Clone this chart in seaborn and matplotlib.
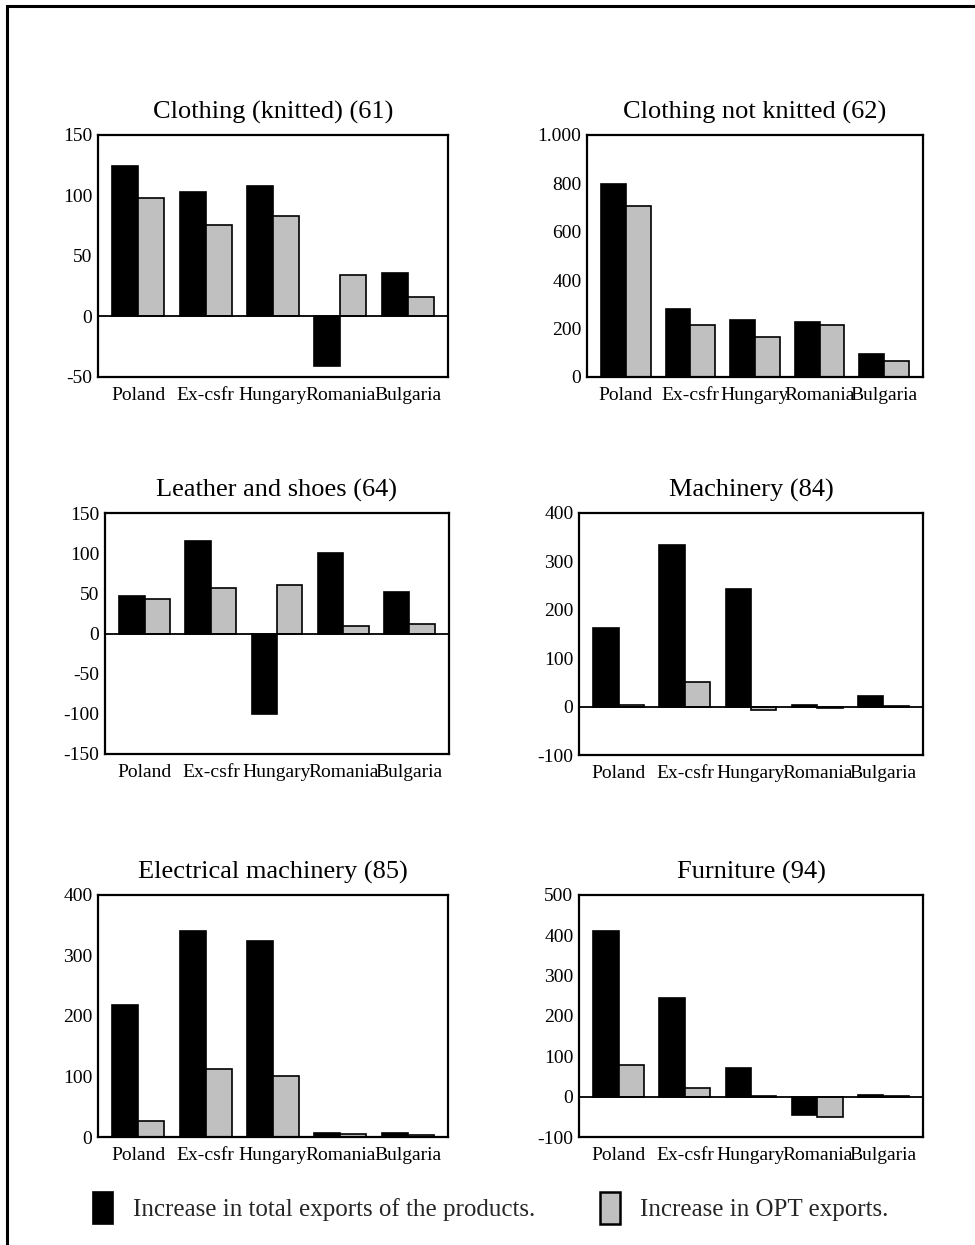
import numpy as np
import pandas as pd
import matplotlib
matplotlib.use("Agg")
import matplotlib.pyplot as plt
from matplotlib.patches import Patch, Rectangle
from matplotlib.ticker import FuncFormatter
import seaborn as sns

# Countries on the x axis
countries = ["Poland", "Ex-csfr", "Hungary", "Romania", "Bulgaria"]

# Series names
series = ["Increase in total exports of the products.", "Increase in OPT exports."]

# Panel titles
titles = [
    "Clothing (knitted) (61)",
    "Clothing not knitted (62)",
    "Leather and shoes (64)",
    "Machinery (84)",
    "Electrical machinery (85)",
    "Furniture (94)",
]

# Increase in total exports, per product group
total_61 = [124, 103, 108, -41, 36]
total_62 = [798, 281, 237, 228, 96]
total_64 = [47, 115, -100, 100, 52]
total_84 = [162, 333, 242, 4, 21]
total_85 = [219, 341, 324, 6, 7]
total_94 = [411, 244, 70, -46, 5]

# Increase in OPT exports, per product group
opt_61 = [98, 76, 83, 34, 16]
opt_62 = [706, 215, 165, 215, 67]
opt_64 = [43, 57, 60, 9, 12]
opt_84 = [4, 50, -8, -3, 2]
opt_85 = [27, 113, 101, 5, 4]
opt_94 = [78, 21, 2, -50, 2]

# Y tick values for each panel
yticks_61 = [-50, 0, 50, 100, 150]
yticks_62 = [0, 200, 400, 600, 800, 1000]
yticks_64 = [-150, -100, -50, 0, 50, 100, 150]
yticks_84 = [-100, 0, 100, 200, 300, 400]
yticks_85 = [0, 100, 200, 300, 400]
yticks_94 = [-100, 0, 100, 200, 300, 400, 500]

panels = [
    (total_61, opt_61, yticks_61),
    (total_62, opt_62, yticks_62),
    (total_64, opt_64, yticks_64),
    (total_84, opt_84, yticks_84),
    (total_85, opt_85, yticks_85),
    (total_94, opt_94, yticks_94),
]

sns.set_theme(style="white")
plt.rcParams["font.family"] = ["Liberation Serif", "DejaVu Serif"]

BLACK = "#000000"
GREY = "#c0c0c0"
palette = {series[0]: BLACK, series[1]: GREY}

W, H = 975, 1245
fig = plt.figure(figsize=(W / 100, H / 100), dpi=100)

# axes boxes in pixels: left, top, right, bottom
boxes = [
    (98, 135, 448, 377),
    (587, 135, 923, 377),
    (105, 513, 449, 754),
    (579, 513, 923, 755),
    (98, 895, 448, 1137),
    (579, 895, 923, 1137),
]


def dotted_thousands(v, pos):
    v = int(round(v))
    return f"{v:,}".replace(",", ".")


for (total, opt, yticks), title, (l, t, r, b) in zip(panels, titles, boxes):
    ax = fig.add_axes([l / W, 1 - b / H, (r - l) / W, (b - t) / H])
    df = pd.DataFrame({
        "country": countries * 2,
        "value": list(total) + list(opt),
        "series": [series[0]] * len(countries) + [series[1]] * len(countries),
    })
    sns.barplot(
        data=df, x="country", y="value", hue="series", order=countries,
        hue_order=series, palette=palette, edgecolor="black", linewidth=1.2,
        width=0.77, saturation=1, legend=False, ax=ax, errorbar=None,
    )
    ax.axhline(0, color="black", lw=1.3, zorder=3)
    ax.set_xlim(-0.6, 4.6)
    ax.set_ylim(yticks[0], yticks[-1])
    ax.set_yticks(yticks)
    ax.yaxis.set_major_formatter(FuncFormatter(dotted_thousands))
    ax.set_xlabel("")
    ax.set_ylabel("")
    ax.tick_params(axis="both", length=0, labelsize=14, colors="black")
    ax.tick_params(axis="y", pad=4)
    ax.tick_params(axis="x", pad=7)
    for lab in ax.get_yticklabels():
        lab.set_verticalalignment("center_baseline")
    for sp in ax.spines.values():
        sp.set_visible(True)
        sp.set_color("black")
        sp.set_linewidth(1.6)
    ax.set_title(title, fontsize=19, pad=11.5, color="black")
    ax.grid(False)

# Legend entries, each placed as its own key
handle_total = Patch(facecolor=BLACK, edgecolor="black", linewidth=1.2)
handle_opt = Patch(facecolor=GREY, edgecolor="black", linewidth=1.8)
for handle, label, x0 in [(handle_total, series[0], 93), (handle_opt, series[1], 600)]:
    fig.legend(
        [handle], [label], loc="center left",
        bbox_to_anchor=(x0 / W, 1 - 1208 / H), frameon=False,
        fontsize=18, handlelength=0.8, handleheight=1.6,
        handletextpad=0.8, borderpad=0, borderaxespad=0,
    )

# Outer frame around the figure content
fig.patches.append(Rectangle(
    (7 / W, -0.05), 1.2, 1 - 6 / H + 0.05, transform=fig.transFigure,
    fill=False, edgecolor="black", linewidth=2.2, clip_on=False,
))

fig.savefig("out.png", dpi=100, facecolor="white")
